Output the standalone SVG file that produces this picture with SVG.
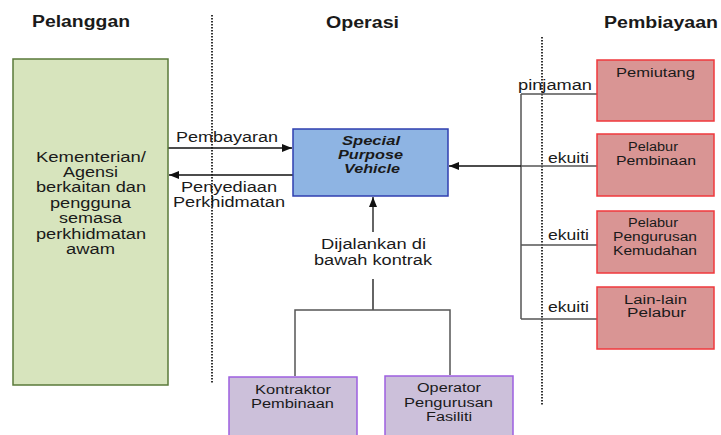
<svg xmlns="http://www.w3.org/2000/svg" width="721" height="435" viewBox="0 0 721 435">
<style>
text{font-family:"Liberation Sans",Arial,sans-serif;fill:#1a1a1a;text-anchor:middle}
.h{font-size:16px;font-weight:bold}
.lbl{font-size:14px}
.sm{font-size:12.5px}
.spv{font-size:12px;font-weight:bold;font-style:italic}
.dot{stroke:#333;stroke-width:2;stroke-dasharray:1.5 1.5;fill:none}
.ln{stroke:#555;stroke-width:1.5;fill:none}
.ar{stroke:#111;stroke-width:1.3;fill:none}
.pink{fill:#d99594;stroke:#f0383c;stroke-width:1.5}
.purp{fill:#ccc0da;stroke:#9d5fe0;stroke-width:1.5}
</style>
<defs>
<marker id="ah" markerWidth="10" markerHeight="8" refX="10" refY="4" orient="auto" markerUnits="userSpaceOnUse">
<path d="M0,0 L10,4 L0,8 Z" fill="#111"/>
</marker>
</defs>
<g id="headers">
<text class="h" x="81" y="27" textLength="98" lengthAdjust="spacingAndGlyphs">Pelanggan</text>
<text class="h" x="362.5" y="28" textLength="73" lengthAdjust="spacingAndGlyphs">Operasi</text>
<text class="h" x="661" y="28" textLength="114" lengthAdjust="spacingAndGlyphs">Pembiayaan</text>
</g>
<g id="dividers">
<line class="dot" x1="212" y1="15" x2="212" y2="384"/>
<line class="dot" x1="542" y1="37" x2="542" y2="406"/>
</g>
<g id="connectors">
<line class="ar" x1="168" y1="148" x2="292" y2="148" marker-end="url(#ah)"/>
<line class="ar" x1="293" y1="175" x2="169" y2="175" marker-end="url(#ah)"/>
<line class="ln" x1="521" y1="94" x2="521" y2="319"/>
<line class="ln" x1="521" y1="94" x2="597" y2="94"/>
<line class="ln" x1="521" y1="166" x2="597" y2="166"/>
<line class="ln" x1="521" y1="245" x2="597" y2="245"/>
<line class="ln" x1="521" y1="319" x2="597" y2="319"/>
<line class="ar" x1="521" y1="166" x2="449" y2="166" marker-end="url(#ah)"/>
<line class="ar" x1="373" y1="232" x2="373" y2="197" marker-end="url(#ah)"/>
<line class="ar" x1="373" y1="279" x2="373" y2="310"/>
<polyline class="ln" points="295,376 295,310 450,310 450,375"/>
</g>
<g id="connector-labels">
<text class="lbl" x="227" y="142" textLength="102" lengthAdjust="spacingAndGlyphs">Pembayaran</text>
<text class="lbl" x="229" y="192" textLength="96" lengthAdjust="spacingAndGlyphs">Penyediaan</text>
<text class="lbl" x="229" y="207" textLength="112" lengthAdjust="spacingAndGlyphs">Perkhidmatan</text>
<text class="lbl" x="555" y="90" textLength="74" lengthAdjust="spacingAndGlyphs">pinjaman</text>
<text class="lbl" x="568.5" y="163" textLength="41" lengthAdjust="spacingAndGlyphs">ekuiti</text>
<text class="lbl" x="568.5" y="240" textLength="41" lengthAdjust="spacingAndGlyphs">ekuiti</text>
<text class="lbl" x="568.5" y="312" textLength="41" lengthAdjust="spacingAndGlyphs">ekuiti</text>
<text class="lbl" x="373.5" y="249" textLength="105" lengthAdjust="spacingAndGlyphs">Dijalankan di</text>
<text class="lbl" x="373" y="265" textLength="118" lengthAdjust="spacingAndGlyphs">bawah kontrak</text>
</g>
<g id="pelanggan">
<rect x="13" y="59" width="155" height="326" fill="#d7e4bd" stroke="#5a7a3a" stroke-width="1.5"/>
<text class="lbl" x="91" y="162" textLength="110" lengthAdjust="spacingAndGlyphs">Kementerian/</text>
<text class="lbl" x="90.5" y="177" textLength="55" lengthAdjust="spacingAndGlyphs">Agensi</text>
<text class="lbl" x="91" y="192" textLength="110" lengthAdjust="spacingAndGlyphs">berkaitan dan</text>
<text class="lbl" x="90.5" y="208" textLength="81" lengthAdjust="spacingAndGlyphs">pengguna</text>
<text class="lbl" x="90.5" y="223" textLength="63" lengthAdjust="spacingAndGlyphs">semasa</text>
<text class="lbl" x="91" y="239" textLength="110" lengthAdjust="spacingAndGlyphs">perkhidmatan</text>
<text class="lbl" x="90.5" y="254" textLength="49" lengthAdjust="spacingAndGlyphs">awam</text>
</g>
<g id="spv">
<rect x="293" y="129" width="155" height="67" fill="#8eb4e3" stroke="#2f3fb0" stroke-width="1.5"/>
<text class="spv" x="371" y="145" textLength="58" lengthAdjust="spacingAndGlyphs">Special</text>
<text class="spv" x="370.5" y="159" textLength="65" lengthAdjust="spacingAndGlyphs">Purpose</text>
<text class="spv" x="372" y="172.5" textLength="56" lengthAdjust="spacingAndGlyphs">Vehicle</text>
</g>
<g id="pemiutang">
<rect class="pink" x="597" y="60" width="117" height="61"/>
<text class="sm" x="655.5" y="77" textLength="79" lengthAdjust="spacingAndGlyphs">Pemiutang</text>
</g>
<g id="pelabur-pembinaan">
<rect class="pink" x="597" y="134" width="117" height="62"/>
<text class="sm" x="653" y="151" textLength="50" lengthAdjust="spacingAndGlyphs">Pelabur</text>
<text class="sm" x="656" y="164.5" textLength="80" lengthAdjust="spacingAndGlyphs">Pembinaan</text>
</g>
<g id="pelabur-pengurusan">
<rect class="pink" x="597" y="211" width="117" height="62"/>
<text class="sm" x="653" y="227" textLength="50" lengthAdjust="spacingAndGlyphs">Pelabur</text>
<text class="sm" x="655" y="241" textLength="84" lengthAdjust="spacingAndGlyphs">Pengurusan</text>
<text class="sm" x="655" y="255" textLength="84" lengthAdjust="spacingAndGlyphs">Kemudahan</text>
</g>
<g id="lain-lain">
<rect class="pink" x="597" y="287" width="117" height="62"/>
<text class="sm" x="655.5" y="304" textLength="63" lengthAdjust="spacingAndGlyphs">Lain-lain</text>
<text class="sm" x="656.5" y="317" textLength="59" lengthAdjust="spacingAndGlyphs">Pelabur</text>
</g>
<g id="kontraktor">
<rect class="purp" x="229" y="377" width="128" height="62"/>
<text class="sm" x="293" y="394" textLength="76" lengthAdjust="spacingAndGlyphs">Kontraktor</text>
<text class="sm" x="292.5" y="408" textLength="83" lengthAdjust="spacingAndGlyphs">Pembinaan</text>
</g>
<g id="operator">
<rect class="purp" x="385" y="376" width="128" height="63"/>
<text class="sm" x="449" y="392" textLength="64" lengthAdjust="spacingAndGlyphs">Operator</text>
<text class="sm" x="448.5" y="407" textLength="89" lengthAdjust="spacingAndGlyphs">Pengurusan</text>
<text class="sm" x="449" y="421" textLength="46" lengthAdjust="spacingAndGlyphs">Fasiliti</text>
</g>
</svg>
